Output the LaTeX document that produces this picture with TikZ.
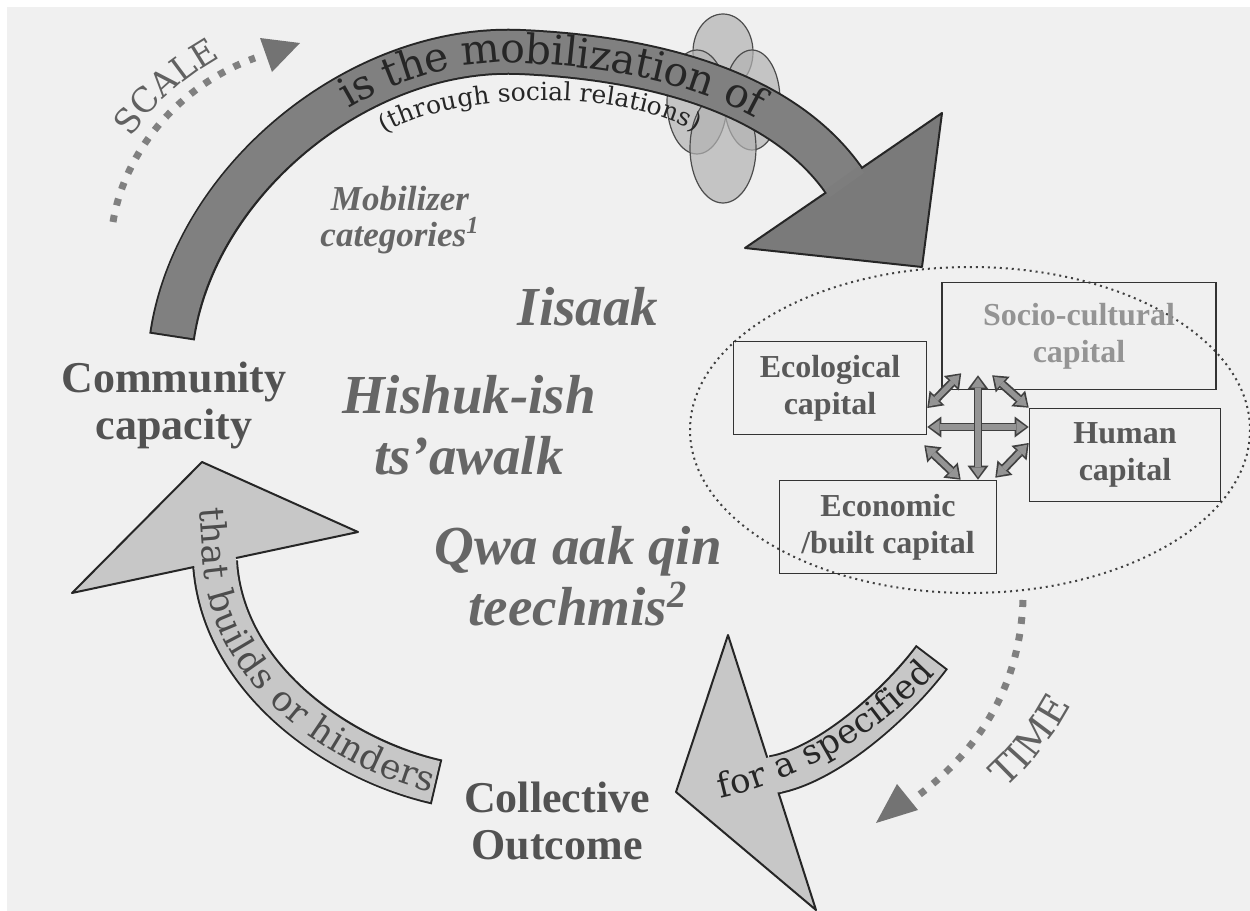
\documentclass[tikz,border=0pt]{standalone}
\usepackage{fontspec}
\setmainfont{Liberation Serif}
\newfontfamily\arcfont{DejaVu Serif}
\usetikzlibrary{calc,arrows.meta,decorations.text}
\tikzset{
	capbox/.style={draw=black!80, line width=0.8pt, inner sep=0pt, align=center, text=black!65, font=\bfseries\fontsize{16}{18.5}\selectfont},
	blurb/.style={align=center, text=black!60, font=\bfseries\itshape\fontsize{27.5}{30.5}\selectfont},
	stage/.style={align=center, text=black!68, font=\bfseries\fontsize{22}{23.5}\selectfont},
	link/.style={line width=4.4pt, draw=black!75, {Triangle[length=7pt,width=10.5pt,line width=0pt]}-{Triangle[length=7pt,width=10.5pt,line width=0pt]}},
	linkfill/.style={line width=2.6pt, draw=black!42, {Triangle[length=5pt,width=7pt,line width=0pt]}-{Triangle[length=5pt,width=7pt,line width=0pt]}, shorten <=1.2pt, shorten >=1.2pt},
	dots/.style={line width=3.5pt, dash pattern=on 3.5pt off 5pt, draw=black!50},
	arctext/.style={decorate, decoration={text along path, text color=black!85, text align=center}},
}

\begin{document}
\begin{tikzpicture}[x=0.5pt, y=-0.5pt]
	%%%%% START %%%%%
	
	\useasboundingbox (0,0) rectangle (1250,911);
	\fill[white] (0,0) rectangle (1250,911);
	\fill[black!6] (7,7) rectangle (1250,911);
	
	% blossom behind the band
	\draw[fill=black!30, fill opacity=0.7, draw=black!70, line width=0.6pt] (723,52) ellipse [x radius=30, y radius=38];
	\draw[fill=black!30, fill opacity=0.7, draw=black!70, line width=0.6pt] (752,100) ellipse [x radius=28, y radius=50];
	\draw[fill=black!30, fill opacity=0.7, draw=black!70, line width=0.6pt] (697,102) ellipse [x radius=30, y radius=52];
	\draw[fill=black!30, fill opacity=0.7, draw=black!70, line width=0.6pt] (723,148) ellipse [x radius=33, y radius=55];
	
	% mobilization band
	\draw[line width=23pt, draw=black!85] (172,337) .. controls (195,180) and (360,45) .. (520,52) .. controls (660,58) and (785,95) .. (845,182);
	\draw[line width=21pt, draw=black!50, shorten <=1pt] (172,337) .. controls (195,180) and (360,45) .. (520,52) .. controls (660,58) and (785,95) .. (845,182);
	\draw[fill=black!52, draw=black!85, line width=1pt, line join=round] (942,113) -- (922,267) -- (745,248) -- cycle;
	\draw[line width=21pt, draw=black!51] (842,178) -- (847,185);
	\path[arctext, decoration={text={|\arcfont\fontsize{20.5}{20.5}\selectfont|is the mobilization of}, text align={align=center, left indent=140pt, right indent=45pt}, raise=-5.5pt}] (172,337) .. controls (195,180) and (360,45) .. (520,52) .. controls (660,58) and (785,95) .. (845,182);
	\path[arctext, decoration={text={|\arcfont\fontsize{12.5}{12.5}\selectfont|(through social relations)}}] (375,140) .. controls (440,90) and (630,85) .. (705,138);
	
	% scale
	\draw[dots] (113,222) .. controls (125,150) and (180,85) .. (255,58);
	\fill[black!55] (260,38) -- (300,43) -- (272,72) -- cycle;
	\path[arctext, decoration={text color=black!62, text={|\arcfont\fontsize{17}{17}\selectfont|SCALE}}] (115,160) .. controls (150,105) and (190,70) .. (245,45);
	
	% capitals
	\draw[dotted, line width=1pt, black!75] (970,430) ellipse [x radius=280, y radius=163];
	\node[capbox, minimum width=137pt, minimum height=53.5pt, text=black!42] (soc) at (1079,336) {Socio-cultural\\capital};
	\node[capbox, minimum width=96.5pt, minimum height=46.5pt] (eco) at (830,388) {Ecological\\capital};
	\node[capbox, minimum width=95.5pt, minimum height=46.5pt] (hum) at (1125,455) {Human\\capital};
	\node[capbox, minimum width=108.5pt, minimum height=46.5pt] (econ) at (888,527) {Economic\\/built capital};
	\coordinate (hub) at (978,427);
	
	\draw[link] (eco.east |- hub) -- (hum.west |- hub);
	\draw[linkfill] (eco.east |- hub) -- (hum.west |- hub);
	\draw[link] ($(hub |- soc.south)+(0,-15)$) -- (hub |- econ.north);
	\draw[linkfill] ($(hub |- soc.south)+(0,-15)$) -- (hub |- econ.north);
	\draw[link] ($(eco.east)+(0,20)$) -- ($(soc.south west)+(20,-17)$);
	\draw[linkfill] ($(eco.east)+(0,20)$) -- ($(soc.south west)+(20,-17)$);
	\draw[link] ($(soc.south west)+(51,-15)$) -- (hum.north west);
	\draw[linkfill] ($(soc.south west)+(51,-15)$) -- (hum.north west);
	\draw[link] ($(hum.west)+(0,-12)$) -- ($(econ.north east)+(-2,-2)$);
	\draw[linkfill] ($(hum.west)+(0,-12)$) -- ($(econ.north east)+(-2,-2)$);
	\draw[link] ($(econ.north west)+(182,0)$) -- ($(eco.south east)+(-3,10)$);
	\draw[linkfill] ($(econ.north west)+(182,0)$) -- ($(eco.south east)+(-3,10)$);
	
	% time
	\draw[dots] (1023,600) .. controls (1020,690) and (975,755) .. (912,800);
	\fill[black!55] (876,823) -- (897,784) -- (918,810) -- cycle;
	\path[arctext, decoration={text color=black!62, text={|\arcfont\fontsize{19}{19}\selectfont|TIME}}] (980,810) .. controls (1025,775) and (1060,735) .. (1085,675);
	
	% for a specified
	\draw[line width=20pt, draw=black!85] (773,775) .. controls (830,765) and (900,700) .. (932,657);
	\draw[line width=18pt, draw=black!22, shorten >=1pt] (773,775) .. controls (830,765) and (900,700) .. (932,657);
	\draw[fill=black!22, draw=black!85, line width=1pt, line join=round] (728,635) -- (676,792) -- (816,910) -- cycle;
	\draw[line width=18pt, draw=black!22] (769,775.7) -- (779,774);
	\path[arctext, decoration={text={|\arcfont\fontsize{17}{17}\selectfont|for a specified}, raise=-5pt}] (700,792) .. controls (800,775) and (890,715) .. (940,652);
	
	% that builds or hinders
	\draw[line width=23pt, draw=black!85] (215,562) .. controls (222,680) and (340,760) .. (437,782);
	\draw[line width=21pt, draw=black!22, shorten >=1pt] (215,562) .. controls (222,680) and (340,760) .. (437,782);
	\draw[fill=black!22, draw=black!85, line width=1pt, line join=round] (202,462) -- (72,593) -- (358,532) -- cycle;
	\draw[line width=21pt, draw=black!22] (214.6,556) -- (215.4,568);
	\path[arctext, decoration={text color=black!70, text={|\arcfont\fontsize{17.5}{17.5}\selectfont|that builds or hinders}, raise=-6pt}] (210,495) -- (215,562) .. controls (222,680) and (340,760) .. (447,784);
	
	% labels
	\node[stage] (community) at (174,405) {Community\\capacity};
	\node[stage] (outcome) at (557,821) {Collective\\Outcome};
	\node[blurb, font=\bfseries\itshape\fontsize{17.5}{18}\selectfont] (mobilizer) at (400,220) {Mobilizer\\categories\textsuperscript{1}};
	\node[blurb] (iisaak) at (588,307) {Iisaak};
	\node[blurb] (hishuk) at (469,425) {Hishuk-ish\\ts’awalk};
	\node[blurb] (qwa) at (578,576) {Qwa aak qin\\teechmis\textsuperscript{2}};
	
	%%%%% END %%%%%
\end{tikzpicture}
\end{document}
